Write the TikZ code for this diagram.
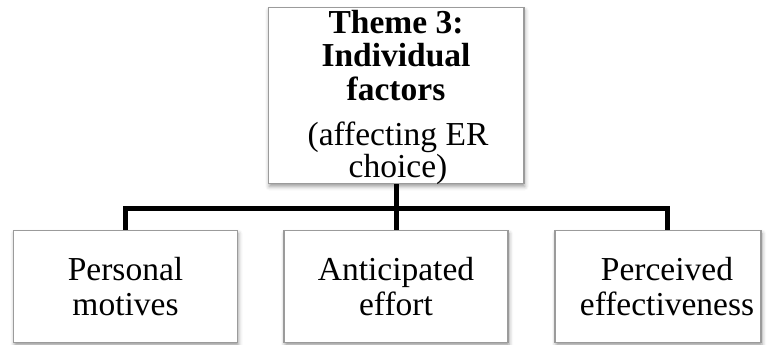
\documentclass[tikz,border=0pt]{standalone}
\usepackage{fontspec}
\setmainfont{Liberation Serif}
\usetikzlibrary{shadows.blur}

\tikzset{
  box/.style={draw={rgb,255:red,155;green,155;blue,155}, line width=1.5pt, fill=white,
    inner sep=0pt, rectangle,
    blur shadow={shadow xshift=1pt, shadow yshift=-3pt, shadow blur radius=4pt, shadow opacity=40}},
  label/.style={align=center, inner sep=0pt, font=\fontsize{33.5}{34.3}\selectfont},
  title/.style={align=center, inner sep=0pt, font=\fontsize{33.5}{33.5}\selectfont\bfseries},
  conn/.style={line width=5pt, black, line join=miter},
}

\begin{document}
\begin{tikzpicture}[x=1pt, y=-1pt]
  \useasboundingbox (0,0) rectangle (769,345);

  % theme box with its heading and subheading (anchored on the last line's baseline)
  \node[box, minimum width=255.5pt, minimum height=176pt] (theme) at (396,95.5) {};
  \node[title, anchor=base] (heading) at (396,100) {Theme 3:\\Individual\\factors};
  \node[label, anchor=base, font=\fontsize{33.5}{29}\selectfont] (sub) at (398,177) {(affecting ER\\choice)};

  % the three factor boxes
  \node[box, minimum width=224pt, minimum height=112pt] (f1) at (125.5,286.5) {};
  \node[box, minimum width=224pt, minimum height=112pt] (f2) at (396,286.5) {};
  \node[box, minimum width=206pt, minimum height=112pt] (f3) at (658,286.5) {};

  \node[label, anchor=base] (p1) at (125.5,315) {Personal\\motives};
  \node[label, anchor=base] (p2) at (396,315) {Anticipated\\effort};
  \node[label, anchor=base] (p3) at (667,315) {Perceived\\effectiveness};

  % connecting tree
  \coordinate (bar) at (396,208);
  \draw[conn] (theme.south) -- (bar);
  \draw[conn] (f1.north) |- (bar) -| (f3.north -| p3);
  \draw[conn] (bar) -- (f2.north);
\end{tikzpicture}
\end{document}
